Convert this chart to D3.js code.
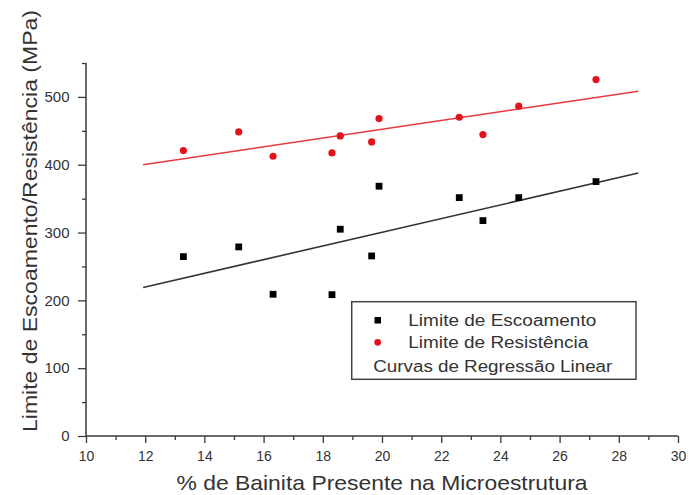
<!DOCTYPE html>
<html>
<head>
<meta charset="utf-8">
<script src="https://cdn.jsdelivr.net/npm/d3@7"></script>
<style>
  html, body { margin: 0; padding: 0; background: #fff; }
  svg { display: block; font-family: "Liberation Sans", Arial, sans-serif; }
</style>
</head>
<body>
<svg id="chart" width="689" height="495"></svg>
<script>
// % bainite in the microstructure
const bainita = [13.29, 15.16, 16.32, 18.31, 18.59, 19.65, 19.90, 22.61, 23.41, 24.62, 27.23];
// Yield strength (MPa)
const escoamento = [264.5, 278.8, 209.0, 208.4, 304.9, 265.5, 368.3, 351.5, 317.6, 351.5, 375.1];
// Tensile strength (MPa)
const resistencia = [420.8, 448.4, 412.5, 417.4, 442.5, 433.6, 468.0, 470.0, 444.4, 486.3, 525.5];
// x span covered by the fitted regression lines
const fitSpan = [11.93, 28.66];

const xTicks = [10, 12, 14, 16, 18, 20, 22, 24, 26, 28, 30];
const yTicks = [0, 100, 200, 300, 400, 500];

const legendLabels = ["Limite de Escoamento", "Limite de Resistência", "Curvas de Regressão Linear"];
const xTitle = "% de Bainita Presente na Microestrutura";
const yTitle = "Limite de Escoamento/Resistência (MPa)";

const svg = d3.select("#chart");
const axisColor = "#3a3a3a";
const red = "#e3131b";

const x = d3.scaleLinear().domain([10, 30]).range([86, 678]);
const y = d3.scaleLinear().domain([0, 550]).range([436, 63]);

// least-squares fit
function fit(xs, ys) {
  const mx = d3.mean(xs), my = d3.mean(ys);
  let sxy = 0, sxx = 0;
  xs.forEach((v, i) => { sxy += (v - mx) * (ys[i] - my); sxx += (v - mx) * (v - mx); });
  const b = sxy / sxx;
  return xv => my + b * (xv - mx);
}

// axes
const xAxis = svg.append("g").attr("transform", `translate(0,${y(0)})`)
  .call(d3.axisBottom(x).tickValues(xTicks).tickSize(7).tickFormat(d3.format("d")));
svg.append("g").attr("transform", `translate(0,${y(0)})`)
  .call(d3.axisBottom(x).tickValues(d3.range(11, 30, 2)).tickSize(4).tickFormat(""))
  .call(g => g.select(".domain").remove());

const yAxis = svg.append("g").attr("transform", `translate(${x(10)},0)`)
  .call(d3.axisLeft(y).tickValues(yTicks).tickSize(8).tickPadding(8.5).tickFormat(d3.format("d")));
svg.append("g").attr("transform", `translate(${x(10)},0)`)
  .call(d3.axisLeft(y).tickValues(d3.range(50, 551, 100)).tickSize(4).tickFormat(""))
  .call(g => g.select(".domain").remove());

svg.selectAll(".domain").attr("stroke", axisColor).attr("stroke-width", 1.5);
svg.selectAll(".tick line").attr("stroke", axisColor).attr("stroke-width", 1.3);
xAxis.selectAll(".tick text")
  .attr("font-size", 14).attr("fill", "#333")
  .attr("y", 25).attr("dy", 0);
yAxis.selectAll(".tick text").attr("font-size", 15).attr("fill", "#333");
xAxis.select(".domain").attr("d", `M${x(10)},0H${x(30)}`);
yAxis.select(".domain").attr("d", `M0,${y(0)}V${y(550)}`);

// axis titles
svg.append("text")
  .attr("x", 382).attr("y", 490)
  .attr("text-anchor", "middle").attr("font-size", 21).attr("fill", "#333")
  .attr("textLength", 411).attr("lengthAdjust", "spacingAndGlyphs")
  .text(xTitle);
svg.append("text")
  .attr("transform", "translate(37,221) rotate(-90)")
  .attr("text-anchor", "middle").attr("font-size", 21).attr("fill", "#333")
  .attr("textLength", 422).attr("lengthAdjust", "spacingAndGlyphs")
  .text(yTitle);

// regression lines
const fitE = fit(bainita, escoamento);
const fitR = fit(bainita, resistencia);
const line = f => d3.line().x(d => x(d)).y(d => y(f(d)));
svg.append("path").datum(fitSpan).attr("d", line(fitR))
  .attr("stroke", "#e8393f").attr("stroke-width", 1.6).attr("fill", "none");
svg.append("path").datum(fitSpan).attr("d", line(fitE))
  .attr("stroke", "#333").attr("stroke-width", 1.6).attr("fill", "none");

// data points
svg.append("g").selectAll("rect").data(bainita).join("rect")
  .attr("x", d => x(d) - 3.4).attr("y", (d, i) => y(escoamento[i]) - 3.4)
  .attr("width", 6.8).attr("height", 6.8).attr("fill", "#000");
svg.append("g").selectAll("circle").data(bainita).join("circle")
  .attr("cx", d => x(d)).attr("cy", (d, i) => y(resistencia[i]))
  .attr("r", 3.6).attr("fill", red);

// legend
const lg = svg.append("g");
lg.append("rect").attr("x", 351.7).attr("y", 301.7).attr("width", 284.3).attr("height", 77.6)
  .attr("fill", "#fff").attr("stroke", "#444").attr("stroke-width", 1.5);
lg.append("rect").attr("x", 374.5).attr("y", 317).attr("width", 6.5).attr("height", 6.5).attr("fill", "#000");
lg.append("circle").attr("cx", 377.7).attr("cy", 342.3).attr("r", 3.4).attr("fill", red);
const lgText = [
  { t: legendLabels[0], x: 408.3, y: 326, w: 188 },
  { t: legendLabels[1], x: 408.3, y: 348, w: 180 },
  { t: legendLabels[2], x: 373.3, y: 372, w: 239 }
];
lg.selectAll("text.lbl").data(lgText).join("text").attr("class", "lbl")
  .attr("x", d => d.x).attr("y", d => d.y)
  .attr("font-size", 16).attr("fill", "#333")
  .attr("textLength", d => d.w).attr("lengthAdjust", "spacingAndGlyphs")
  .text(d => d.t);
</script>
</body>
</html>
